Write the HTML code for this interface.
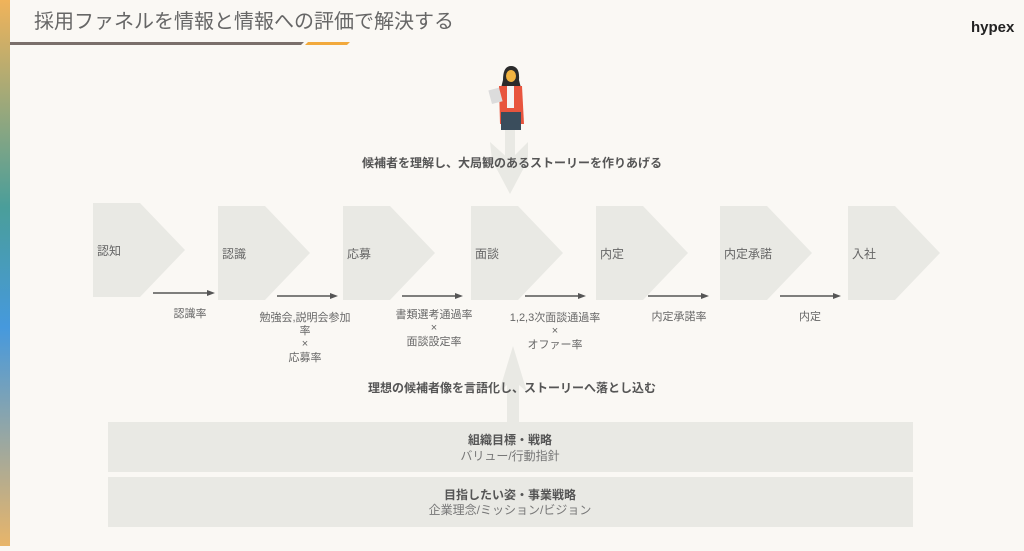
<!DOCTYPE html>
<html><head><meta charset="utf-8"><style>
body{margin:0;width:1024px;height:546px;background:#faf8f4;overflow:hidden;font-family:"Liberation Sans","Noto Sans CJK JP",sans-serif}
svg text{font-family:"Liberation Sans","Noto Sans CJK JP",sans-serif}
</style></head><body>
<svg width="1024" height="546" viewBox="0 0 1024 546" xmlns="http://www.w3.org/2000/svg">
<defs><linearGradient id="g" x1="0" y1="0" x2="0" y2="1">
<stop offset="0" stop-color="#f0b35a"/><stop offset="0.38" stop-color="#4a9e9a"/><stop offset="0.6" stop-color="#4699dd"/><stop offset="1" stop-color="#e8b56a"/></linearGradient></defs>
<rect x="0" y="0" width="10" height="546" fill="url(#g)"/>
<text x="34" y="28" font-size="20" fill="#666">採用ファネルを情報と情報への評価で解決する</text>
<polygon points="10,42 304,42 301,45 10,45" fill="#7a6f6b"/>
<polygon points="308,42 350,42 347,45 305,45" fill="#f2a93b"/>
<text x="971" y="32" font-size="15" font-weight="bold" fill="#222">hypex</text>
<!-- top arrow -->
<rect x="505" y="130" width="10" height="30" fill="#e9e9e4"/>
<polygon points="490,142 510,160 528,142 528,160 510,194 492,160" fill="#e9e9e4"/>
<!-- person -->
<g>
<path d="M503,80 Q503,66 511,66 Q520,66 519,80 L522,92 L500,92 Z" fill="#2b2b2b"/>
<ellipse cx="511" cy="76" rx="5" ry="6" fill="#f2b441"/>
<path d="M499,86 L522,86 L524,124 L500,124 Z" fill="#e8553e"/>
<rect x="507" y="86" width="7" height="22" fill="#f5f5f5"/>
<path d="M501,112 L521,112 L521,130 L501,130 Z" fill="#3a4d5c"/>
<rect x="490" y="89" width="11" height="14" fill="#dcdcdc" transform="rotate(-15 495 96)"/>
</g>
<text x="512" y="167" font-size="12" font-weight="bold" fill="#555" text-anchor="middle">候補者を理解し、大局観のあるストーリーを作りあげる</text>
<!-- chevrons -->
<g fill="#e9e9e4">
<polygon points="93,203 140,203 185,250 140,297 93,297"/>
<polygon points="218,206 265,206 310,253 265,300 218,300"/>
<polygon points="343,206 390,206 435,253 390,300 343,300"/>
<polygon points="471,206 518,206 563,253 518,300 471,300"/>
<polygon points="596,206 643,206 688,253 643,300 596,300"/>
<polygon points="720,206 767,206 812,253 767,300 720,300"/>
<polygon points="848,206 895,206 940,253 895,300 848,300"/>
</g>
<g font-size="12" fill="#666">
<text x="97" y="255">認知</text>
<text x="222" y="258">認識</text>
<text x="347" y="258">応募</text>
<text x="475" y="258">面談</text>
<text x="600" y="258">内定</text>
<text x="724" y="258">内定承諾</text>
<text x="852" y="258">入社</text>
</g>
<g stroke="#555" stroke-width="1.5" fill="#555">
<line x1="153" y1="293" x2="208" y2="293"/><polygon points="207,290 215,293 207,296" stroke="none"/>
<line x1="277" y1="296" x2="331" y2="296"/><polygon points="330,293 338,296 330,299" stroke="none"/>
<line x1="402" y1="296" x2="456" y2="296"/><polygon points="455,293 463,296 455,299" stroke="none"/>
<line x1="525" y1="296" x2="579" y2="296"/><polygon points="578,293 586,296 578,299" stroke="none"/>
<line x1="648" y1="296" x2="702" y2="296"/><polygon points="701,293 709,296 701,299" stroke="none"/>
<line x1="780" y1="296" x2="834" y2="296"/><polygon points="833,293 841,296 833,299" stroke="none"/>
</g>
<g font-size="11" fill="#666" text-anchor="middle">
<text x="190" y="317">認識率</text>
<text x="305" y="321">勉強会,説明会参加</text>
<text x="305" y="334">率</text>
<text x="305" y="347">×</text>
<text x="305" y="361">応募率</text>
<text x="434" y="318">書類選考通過率</text>
<text x="434" y="331">×</text>
<text x="434" y="345">面談設定率</text>
<text x="555" y="321">1,2,3次面談通過率</text>
<text x="555" y="334">×</text>
<text x="555" y="348">オファー率</text>
<text x="679" y="320">内定承諾率</text>
<text x="810" y="320">内定</text>
</g>
<!-- bottom arrow -->
<rect x="507" y="370" width="12" height="52" fill="#e9e9e4"/>
<polygon points="513,346 527,392 519,385 507,385 499,392" fill="#e9e9e4"/>
<text x="512" y="392" font-size="12" font-weight="bold" fill="#555" text-anchor="middle">理想の候補者像を言語化し、ストーリーへ落とし込む</text>
<rect x="108" y="422" width="805" height="50" fill="#e9e9e4"/>
<rect x="108" y="477" width="805" height="50" fill="#e9e9e4"/>
<text x="510" y="444" font-size="12" font-weight="bold" fill="#555" text-anchor="middle">組織目標・戦略</text>
<text x="510" y="460" font-size="12" fill="#777" text-anchor="middle">バリュー/行動指針</text>
<text x="510" y="499" font-size="12" font-weight="bold" fill="#555" text-anchor="middle">目指したい姿・事業戦略</text>
<text x="510" y="514" font-size="12" fill="#777" text-anchor="middle">企業理念/ミッション/ビジョン</text>
</svg>
</body></html>
